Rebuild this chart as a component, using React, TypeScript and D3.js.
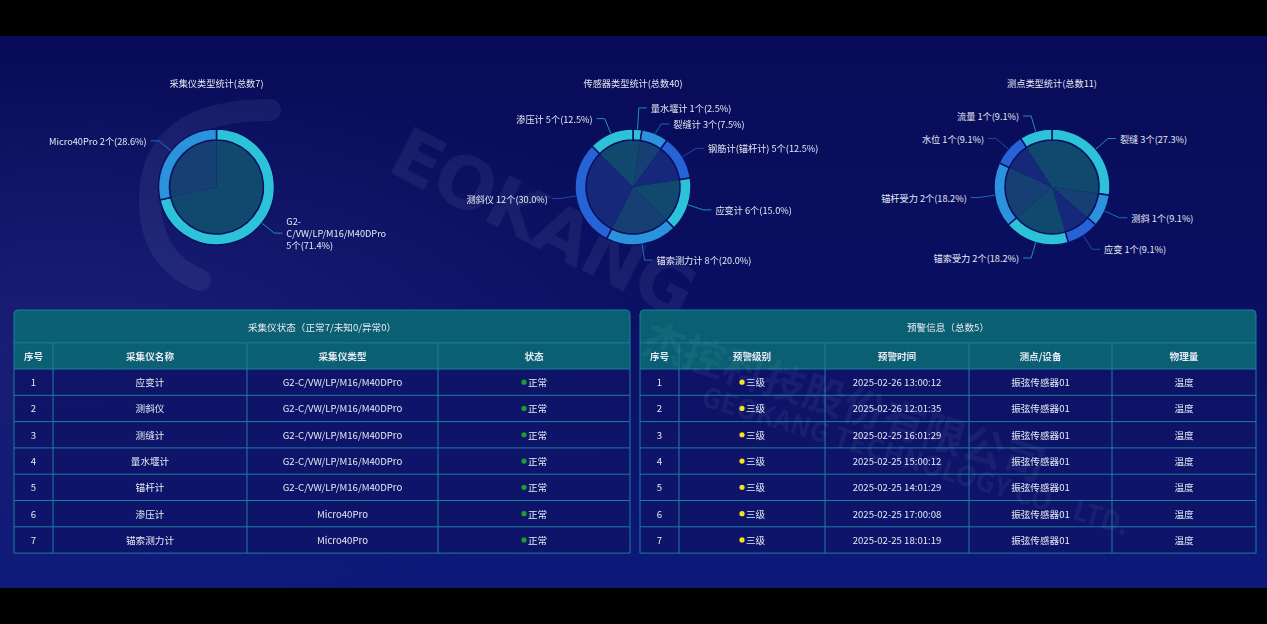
import React from 'react';
import * as d3 from 'd3';

// ---------- data ----------
const collectorTypes = ['G2-C/VW/LP/M16/M40DPro', 'Micro40Pro'];
const collectorCounts = [5, 2];
const sensorTypes = ['量水堰计', '裂缝计', '钢筋计(锚杆计)', '应变计', '锚索测力计', '测斜仪', '渗压计'];
const sensorCounts = [1, 3, 5, 6, 8, 12, 5];
const pointTypes = ['裂缝', '测斜', '应变', '锚索受力', '锚杆受力', '水位', '流量'];
const pointCounts = [3, 1, 1, 2, 2, 1, 1];

const collectorNames = ['应变计', '测斜仪', '测缝计', '量水堰计', '锚杆计', '渗压计', '锚索测力计'];
const collectorModels = [
  'G2-C/VW/LP/M16/M40DPro', 'G2-C/VW/LP/M16/M40DPro', 'G2-C/VW/LP/M16/M40DPro',
  'G2-C/VW/LP/M16/M40DPro', 'G2-C/VW/LP/M16/M40DPro', 'Micro40Pro', 'Micro40Pro',
];
const collectorStatus = ['正常', '正常', '正常', '正常', '正常', '正常', '正常'];
const collectorHeaders = ['序号', '采集仪名称', '采集仪类型', '状态'];

const warnLevels = ['三级', '三级', '三级', '三级', '三级', '三级', '三级'];
const warnTimes = [
  '2025-02-26 13:00:12', '2025-02-26 12:01:35', '2025-02-25 16:01:29', '2025-02-25 15:00:12',
  '2025-02-25 14:01:29', '2025-02-25 17:00:08', '2025-02-25 18:01:19',
];
const warnDevices = ['振弦传感器01', '振弦传感器01', '振弦传感器01', '振弦传感器01', '振弦传感器01', '振弦传感器01', '振弦传感器01'];
const warnQuantities = ['温度', '温度', '温度', '温度', '温度', '温度', '温度'];
const warnHeaders = ['序号', '预警级别', '预警时间', '测点/设备', '物理量'];

// ---------- styles ----------
const FONT = '"Microsoft YaHei", "Noto Sans CJK SC", "Noto Sans", sans-serif';
const RING_COLORS = ['#2cc3d8', '#2a93dc', '#2563d6'];
const INNER_COLORS = ['#11496e', '#163f74', '#16287a'];
const BG = '#0b1062';
const BORDER = '#1b7fa0';
const HEAD_BG = '#0b6673';
const ROW_BG = '#0e1468';
const TXT = '#e6eaf2';
const PIE_FS = 9.2;
const TBL_FS = 9.6;

type PieProps = { cx: number; cy: number; title: string; names: string[]; values: number[] };

function Donut({ cx, cy, title, names, values }: PieProps) {
  const outerR = 58;
  const ringInner = 47;
  const innerR = 46.5;
  const total = d3.sum(values);
  const pie = d3.pie<number>().sort(null).value((d) => d);
  const arcs = pie(values);
  const ringArc = d3.arc<d3.PieArcDatum<number>>().innerRadius(ringInner).outerRadius(outerR);
  const innerArc = d3.arc<d3.PieArcDatum<number>>().innerRadius(0).outerRadius(innerR);

  const len1 = 16;
  const len2 = 8;
  const gap = 4;
  const lineH = 12;

  type Lab = { i: number; side: number; x1: number; y1: number; x2: number; y2: number; lines: string[] };
  const labs: Lab[] = arcs.map((a, i) => {
    const mid = (a.startAngle + a.endAngle) / 2;
    const s = Math.sin(mid);
    const c = -Math.cos(mid);
    const pct = ((values[i] / total) * 100).toFixed(1);
    const full = `${names[i]} ${values[i]}个(${pct}%)`;
    let lines = [full];
    if (names[i].length > 16) {
      const idx = names[i].indexOf('-');
      lines = [names[i].slice(0, idx + 1), names[i].slice(idx + 1), `${values[i]}个(${pct}%)`];
    }
    return {
      i, side: s >= 0 ? 1 : -1,
      x1: s * outerR, y1: c * outerR,
      x2: s * (outerR + len1), y2: c * (outerR + len1),
      lines,
    };
  });
  [1, -1].forEach((side) => {
    const group = labs.filter((l) => l.side === side).sort((a, b) => a.y2 - b.y2);
    for (let iter = 0; iter < 20; iter++) {
      let moved = false;
      for (let k = 0; k < group.length - 1; k++) {
        const a = group[k];
        const b = group[k + 1];
        const need = (a.lines.length * lineH) / 2 + (b.lines.length * lineH) / 2 + 4;
        const d = b.y2 - a.y2;
        if (d < need) {
          const shift = (need - d) / 2;
          a.y2 -= shift;
          b.y2 += shift;
          moved = true;
        }
      }
      if (!moved) break;
    }
  });

  return (
    <g transform={`translate(${cx},${cy})`}>
      <text x={0} y={-104} textAnchor="middle" dominantBaseline="central" fontSize={PIE_FS} fill={TXT} fontFamily={FONT}>
        {title}
      </text>
      {arcs.map((a, i) => (
        <path key={`in${i}`} d={innerArc(a) || ''} fill={INNER_COLORS[i % 3]} />
      ))}
      {arcs.map((a, i) => (
        <path key={`ring${i}`} d={ringArc(a) || ''} fill={RING_COLORS[i % 3]} stroke={BG} strokeWidth={1.5} />
      ))}
      {labs.map((l) => {
        const x3 = l.x2 + l.side * len2;
        const tx = x3 + l.side * gap;
        const n = l.lines.length;
        return (
          <g key={`lab${l.i}`}>
            <polyline
              points={`${l.x1},${l.y1} ${l.x2},${l.y2} ${x3},${l.y2}`}
              fill="none"
              stroke={RING_COLORS[l.i % 3]}
              strokeOpacity={0.7}
              strokeWidth={1}
            />
            {l.lines.map((ln, k) => (
              <text
                key={k}
                x={tx}
                y={l.y2 + (k - (n - 1) / 2) * lineH}
                textAnchor={l.side > 0 ? 'start' : 'end'}
                dominantBaseline="central"
                fontSize={PIE_FS}
                fill={TXT}
                fontFamily={FONT}
              >
                {ln}
              </text>
            ))}
          </g>
        );
      })}
    </g>
  );
}

type TableProps = {
  x0: number; y0: number; colEdges: number[]; title: string; headers: string[];
  rows: string[][]; dotCol: number; dotColor: string;
};

function DataTable({ x0, y0, colEdges, title, headers, rows, dotCol, dotColor }: TableProps) {
  const titleH = 33;
  const headH = 26;
  const rowH = 26.3;
  const x1 = colEdges[colEdges.length - 1];
  const w = x1 - x0;
  const yHead = y0 + titleH;
  const yRows = yHead + headH;
  const yEnd = yRows + rows.length * rowH;
  const rowScale = d3.scaleLinear().domain([0, rows.length]).range([yRows, yEnd]);
  const r = 4;
  const titlePath = `M${x0},${yHead} L${x0},${y0 + r} Q${x0},${y0} ${x0 + r},${y0} L${x1 - r},${y0} Q${x1},${y0} ${x1},${y0 + r} L${x1},${yHead} Z`;
  return (
    <g fontFamily={FONT}>
      <path d={titlePath} fill={HEAD_BG} fillOpacity={0.92} stroke={BORDER} strokeWidth={1} />
      <text x={x0 + w / 2} y={y0 + titleH / 2} textAnchor="middle" dominantBaseline="central" fontSize={TBL_FS} fill={TXT}>
        {title}
      </text>
      <rect x={x0} y={yHead} width={w} height={headH} fill={HEAD_BG} fillOpacity={0.92} />
      <rect x={x0} y={yRows} width={w} height={yEnd - yRows} fill={ROW_BG} fillOpacity={0.9} />
      {headers.map((h, j) => (
        <text
          key={`h${j}`}
          x={(colEdges[j] + colEdges[j + 1]) / 2}
          y={yHead + headH / 2}
          textAnchor="middle"
          dominantBaseline="central"
          fontSize={TBL_FS}
          fontWeight="bold"
          fill={TXT}
        >
          {h}
        </text>
      ))}
      {rows.map((row, i) => {
        const cy = rowScale(i + 0.5);
        return (
          <g key={`r${i}`}>
            {row.map((cell, j) => {
              const cx = (colEdges[j] + colEdges[j + 1]) / 2;
              if (j === dotCol) {
                return (
                  <g key={j}>
                    <circle cx={cx - 10} cy={cy} r={2.6} fill={dotColor} />
                    <text x={cx - 6} y={cy} dominantBaseline="central" fontSize={TBL_FS} fill={TXT}>
                      {cell}
                    </text>
                  </g>
                );
              }
              return (
                <text key={j} x={cx} y={cy} textAnchor="middle" dominantBaseline="central" fontSize={TBL_FS} fill={TXT}>
                  {cell}
                </text>
              );
            })}
          </g>
        );
      })}
      {d3.range(0, rows.length + 1).map((i) => (
        <line key={`hl${i}`} x1={x0} x2={x1} y1={rowScale(i)} y2={rowScale(i)} stroke={BORDER} strokeWidth={1} />
      ))}
      <line x1={x0} x2={x1} y1={yHead} y2={yHead} stroke={BORDER} strokeWidth={1} strokeOpacity={0.6} />
      {colEdges.slice(1, -1).map((cx, j) => (
        <line key={`vl${j}`} x1={cx} x2={cx} y1={yHead} y2={yEnd} stroke={BORDER} strokeWidth={1} />
      ))}
      <line x1={x0} x2={x0} y1={yHead} y2={yEnd} stroke={BORDER} strokeWidth={1} />
      <line x1={x1} x2={x1} y1={yHead} y2={yEnd} stroke={BORDER} strokeWidth={1} />
    </g>
  );
}

export default function App() {
  const W = 1267;
  const H = 624;
  const top = 36;
  const bottom = 588;
  const leftRows = collectorNames.map((n, i) => [String(i + 1), n, collectorModels[i], collectorStatus[i]]);
  const rightRows = warnLevels.map((lv, i) => [String(i + 1), lv, warnTimes[i], warnDevices[i], warnQuantities[i]]);
  return (
    <div style={{ position: 'fixed', left: 0, top: 0, width: W, height: H, background: '#000', overflow: 'hidden' }}>
      <svg width={W} height={H} style={{ display: 'block' }}>
        <defs>
          <linearGradient id="bgGrad" x1="0" y1="0" x2="0" y2="1">
            <stop offset="0%" stopColor="#080c58" />
            <stop offset="60%" stopColor="#0a1064" />
            <stop offset="100%" stopColor="#0d1a7a" />
          </linearGradient>
          <radialGradient id="glowL" cx="0.05" cy="0.55" r="0.5">
            <stop offset="0%" stopColor="#2a2f8a" stopOpacity={0.5} />
            <stop offset="100%" stopColor="#2a2f8a" stopOpacity={0} />
          </radialGradient>
        </defs>
        <rect x={0} y={0} width={W} height={H} fill="#000" />
        <rect x={0} y={top} width={W} height={bottom - top} fill="url(#bgGrad)" />
        <rect x={0} y={top} width={W} height={bottom - top} fill="url(#glowL)" />

        {/* faint watermark logo */}
        <g opacity={0.08} fill="#b8c4ec" fontFamily='"DejaVu Sans", sans-serif' fontWeight="bold">
          <path d="M 270 110 Q 150 110 150 200 Q 150 260 200 280" fill="none" stroke="#b8c4ec" strokeWidth={22} strokeLinecap="round" />
          <text x={0} y={0} fontSize={72} transform="translate(385,170) rotate(27)" letterSpacing={-2}>
            EOKANG
          </text>
        </g>

        <Donut cx={216.5} cy={187} title="采集仪类型统计(总数7)" names={collectorTypes} values={collectorCounts} />
        <Donut cx={633} cy={187} title="传感器类型统计(总数40)" names={sensorTypes} values={sensorCounts} />
        <Donut cx={1052} cy={187} title="测点类型统计(总数11)" names={pointTypes} values={pointCounts} />

        <DataTable
          x0={14}
          y0={310}
          colEdges={[14, 53, 247, 438, 630]}
          title="采集仪状态（正常7/未知0/异常0）"
          headers={collectorHeaders}
          rows={leftRows}
          dotCol={3}
          dotColor="#1aa02a"
        />
        <DataTable
          x0={640}
          y0={310}
          colEdges={[640, 679, 825, 969, 1112, 1256]}
          title="预警信息（总数5）"
          headers={warnHeaders}
          rows={rightRows}
          dotCol={1}
          dotColor="#f5e41a"
        />

        {/* watermark company name drawn faintly over the tables */}
        <g opacity={0.06} fill="#c8d2f4" fontFamily={FONT} fontWeight="bold" pointerEvents="none">
          <text x={0} y={0} fontSize={42} transform="translate(640,352) rotate(18)">
            杰控科技股份有限公司
          </text>
          <text x={0} y={0} fontSize={27} transform="translate(700,405) rotate(17)">
            GEOKANG TECHNOLOGY CO., LTD.
          </text>
        </g>
      </svg>
    </div>
  );
}
